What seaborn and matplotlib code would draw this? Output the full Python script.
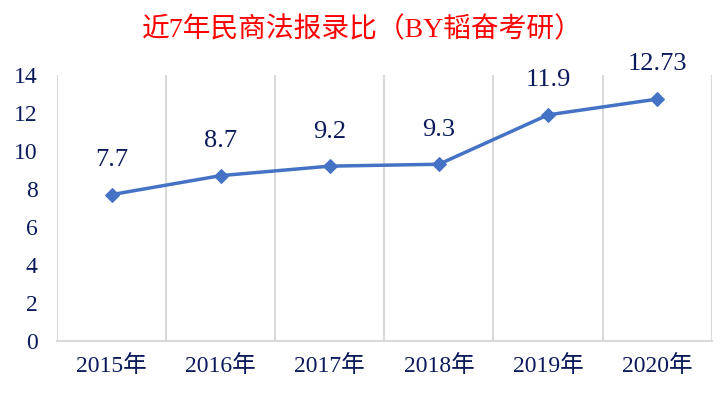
import pandas as pd
import matplotlib
matplotlib.use("Agg")
import matplotlib.pyplot as plt
import seaborn as sns

# chart data
years = ["2015年", "2016年", "2017年", "2018年", "2019年", "2020年"]
ratios = [7.7, 8.7, 9.2, 9.3, 11.9, 12.73]
value_labels = ["7.7", "8.7", "9.2", "9.3", "11.9", "12.73"]
y_ticks = [0, 2, 4, 6, 8, 10, 12, 14]
title = "近7年民商法报录比（BY韬奋考研）"

sns.set_style("white")
plt.rcParams["font.family"] = ["Liberation Serif", "Noto Sans CJK SC", "DejaVu Sans"]

NAVY = "#0b1a5a"
LINE = "#4472c4"

df = pd.DataFrame({"year": years, "ratio": ratios})

fig = plt.figure(figsize=(7.25, 4.01), dpi=100)
ax = fig.add_axes([0.0786, 0.150, 0.903, 0.663])

sns.lineplot(data=df, x="year", y="ratio", ax=ax, color=LINE, linewidth=2.5,
             marker="D", markersize=7, markeredgecolor=LINE, sort=False)

for i, (v, lab) in enumerate(zip(ratios, value_labels)):
    ax.annotate(lab, (i, v), xytext=(0, 17), textcoords="offset points",
                ha="center", va="bottom", fontsize=19, color=NAVY)

ax.set_xlim(-0.5, len(years) - 0.5)
ax.set_ylim(0, 14)
ax.set_yticks(y_ticks)
ax.set_yticklabels([str(t) for t in y_ticks], fontsize=17, color=NAVY)
ax.set_xticks(range(len(years)))
ax.set_xticklabels(years, fontsize=17, color=NAVY)
ax.set_xticks([i - 0.5 for i in range(len(years) + 1)], minor=True)
ax.grid(False)
ax.grid(True, axis="x", which="minor", color="#d9d9d9", linewidth=1.5)
ax.tick_params(axis="both", which="both", length=0)
ax.tick_params(axis="x", pad=10)
ax.tick_params(axis="y", pad=14)
ax.set_xlabel("")
ax.set_ylabel("")
for side in ["top", "right", "left"]:
    ax.spines[side].set_visible(False)
ax.spines["bottom"].set_color("#d9d9d9")
ax.spines["bottom"].set_linewidth(1.5)

fig.text(0.5, 0.925, title, ha="center", va="center", fontsize=20,
         color="#ff0000")

fig.savefig("out.png", dpi=100)
